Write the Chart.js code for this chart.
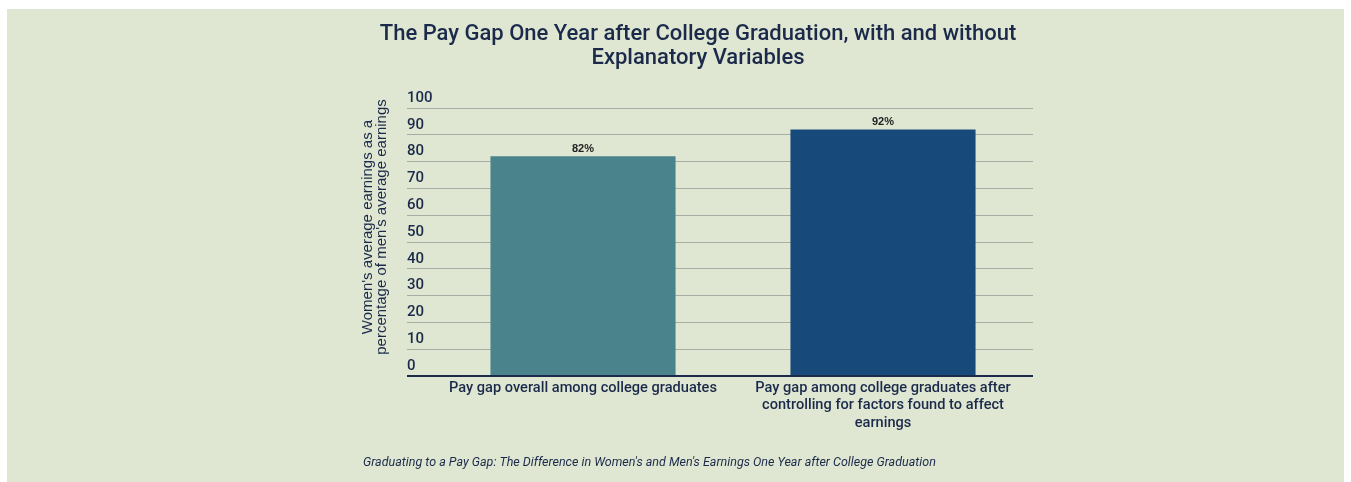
<!DOCTYPE html>
<html>
<head>
<meta charset="utf-8">
<script src="https://cdn.jsdelivr.net/npm/chart.js@4/dist/chart.umd.min.js"></script>
<style>
  html, body { margin: 0; padding: 0; background: #ffffff; }
  #panel {
    position: absolute; left: 7px; top: 9px; width: 1337px; height: 473px;
    background: #dfe7d2;
  }
  #wrap { position: absolute; left: 0; top: 0; width: 1351px; height: 482px; }
</style>
</head>
<body>
<div id="panel"></div>
<div id="wrap"><canvas id="payGapChart"></canvas></div>
<script>
const CATEGORIES = [
  ["Pay gap overall among college graduates"],
  ["Pay gap among college graduates after", "controlling for factors found to affect", "earnings"],
];
const VALUES = [82, 92];
const VALUE_LABELS = ["82%", "92%"];
const BAR_COLORS = ["#4b838d", "#174a7b"];
const Y_TICKS = [0, 10, 20, 30, 40, 50, 60, 70, 80, 90, 100];

const TITLE_LINES = [
  "The Pay Gap One Year after College Graduation, with and without",
  "Explanatory Variables",
];
const Y_TITLE_LINES = [
  "Women's average earnings as a",
  "percentage of men's average earnings",
];
const CAPTION =
  "Graduating to a Pay Gap: The Difference in Women's and Men's Earnings One Year after College Graduation";

const NAVY = "#1b2a4a";
const GRID = "#a6ada5";

// value labels above each bar
const barLabels = {
  id: "barLabels",
  afterDatasetsDraw(chart) {
    const ctx = chart.ctx;
    const meta = chart.getDatasetMeta(0);
    ctx.save();
    ctx.font = "bold 11px 'Liberation Sans', Arial";
    ctx.fillStyle = "#222222";
    ctx.textAlign = "center";
    ctx.textBaseline = "bottom";
    meta.data.forEach((bar, i) => {
      ctx.fillText(VALUE_LABELS[i], bar.x, bar.y - 2);
    });
    ctx.restore();
  },
};

// rotated y axis title, two lines
const yTitle = {
  id: "yTitle",
  afterDraw(chart) {
    const ctx = chart.ctx;
    ctx.save();
    ctx.translate(375, 227);
    ctx.rotate(-Math.PI / 2);
    ctx.font = "15px 'Liberation Sans', Arial";
    ctx.fillStyle = NAVY;
    ctx.textAlign = "center";
    ctx.textBaseline = "middle";
    ctx.fillText(Y_TITLE_LINES[0], 0, -7);
    ctx.fillText(Y_TITLE_LINES[1], 0, 7);
    ctx.restore();
  },
};

new Chart(document.getElementById("payGapChart"), {
  type: "bar",
  data: {
    labels: CATEGORIES,
    datasets: [
      {
        data: VALUES,
        backgroundColor: BAR_COLORS,
        borderWidth: 0,
        categoryPercentage: 1,
        barPercentage: 0.617,
      },
    ],
  },
  options: {
    responsive: true,
    maintainAspectRatio: false,
    animation: false,
    layout: {
      padding: { left: 363, right: 318, top: 0, bottom: 0 },
    },
    scales: {
      x: {
        border: { display: false },
        grid: { display: false, drawTicks: false },
        ticks: {
          color: NAVY,
          font: { family: "Roboto", size: 14.6, weight: "500", lineHeight: 1.22 },
          padding: 3,
          maxRotation: 0,
          autoSkip: false,
        },
      },
      y: {
        min: 0,
        max: 100,
        afterBuildTicks(scale) {
          scale.ticks = Y_TICKS.map((v) => ({ value: v }));
        },
        afterFit(scale) {
          scale.width = 70;
        },
        border: { display: false },
        grid: {
          color: (c) => (c.tick && c.tick.value === 0 ? NAVY : GRID),
          lineWidth: (c) => (c.tick && c.tick.value === 0 ? 2 : 1),
          drawTicks: true,
          tickLength: 26,
        },
        ticks: {
          mirror: true,
          crossAlign: "near",
          padding: -26,
          labelOffset: -10,
          color: NAVY,
          font: { family: "Roboto", size: 15, weight: "500" },
        },
      },
    },
    plugins: {
      legend: { display: false },
      tooltip: { enabled: false },
      title: {
        display: true,
        text: TITLE_LINES,
        color: NAVY,
        font: { family: "Roboto", size: 22, weight: "500", lineHeight: 1.1 },
        padding: { top: 22, bottom: 37.6 },
      },
      subtitle: {
        display: true,
        position: "bottom",
        align: "start",
        text: CAPTION,
        color: NAVY,
        font: { family: "Roboto", size: 12.5, style: "italic", lineHeight: 1.2 },
        padding: { top: 20, bottom: 11.5 },
      },
    },
  },
  plugins: [barLabels, yTitle],
});
</script>
</body>
</html>
